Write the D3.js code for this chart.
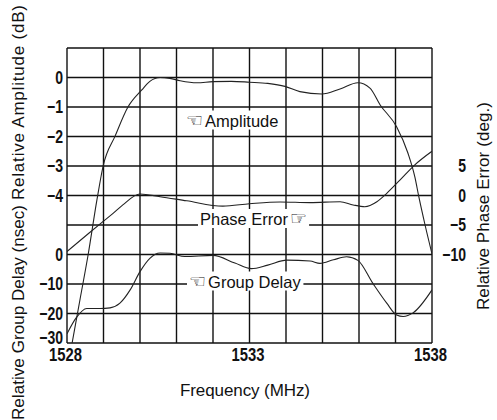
<!doctype html>
<html>
<head>
<meta charset="utf-8">
<title>Relative amplitude, phase error and group delay</title>
<style>
    body { margin: 0; overflow: hidden; background: #fff; }
    text { font-family: "Liberation Sans", Arial, sans-serif; fill: #111; }
    .tick text { font-family: "Liberation Sans", Arial, sans-serif; font-weight: bold; font-size: 18px; }
    .hand { font-family: "DejaVu Sans", sans-serif; font-size: 19px; }
</style>
</head>
<body>
<script src="https://cdn.jsdelivr.net/npm/d3@7"></script>
<script>
const freqTicks = [1528, 1533, 1538];
const ampTicks = [0, -1, -2, -3, -4];
const delayTicks = [0, -10, -20, -30];
const phaseTicks = [5, 0, -5, -10];

// amplitude (dB)
const ampFreq = [1528.14, 1528.36, 1528.58, 1528.82, 1528.99, 1529.32, 1529.67, 1530.05, 1530.27, 1530.55,
    1530.82, 1531.1, 1531.56, 1532.0, 1532.5, 1533.0, 1533.5, 1533.97, 1534.38, 1534.98,
    1535.48, 1535.97, 1536.3, 1536.58, 1537.03, 1537.34, 1537.53, 1537.64, 1537.81, 1538.0];
const ampDb = [-9.0, -7.5, -6.0, -4.15, -3.0, -1.98, -1.0, -0.42, -0.13, 0.0,
    -0.03, -0.11, -0.18, -0.14, -0.13, -0.16, -0.2, -0.3, -0.48, -0.56,
    -0.39, -0.18, -0.36, -0.93, -1.67, -2.56, -3.37, -4.05, -5.0, -5.98];

// phase error (deg)
const phaseFreq = [1528.0, 1528.54, 1528.95, 1529.27, 1529.53, 1530.0, 1530.55, 1531.28, 1532.27, 1533.0,
    1533.84, 1534.66, 1535.48, 1535.84, 1536.16, 1536.49, 1536.76, 1537.12, 1537.53, 1538.0];
const phaseDeg = [-9.5, -6.7, -4.6, -3.0, -1.6, 0.25, -0.2, -0.9, -1.8, -1.4,
    -1.1, -1.2, -1.05, -1.6, -1.9, -1.05, 0.37, 2.6, 5.2, 7.5];

// group delay (nsec)
const delayFreq = [1528.0, 1528.25, 1528.54, 1528.9, 1529.18, 1529.45, 1529.73, 1530.0, 1530.27, 1530.55,
    1530.82, 1531.23, 1532.0, 1532.6, 1533.05, 1533.5, 1534.02, 1534.66, 1534.93, 1535.3,
    1535.66, 1535.97, 1536.38, 1536.76, 1537.03, 1537.21, 1537.48, 1538.0];
const delayNs = [-26.9, -21.5, -18.3, -18.3, -18.1, -16.5, -12.0, -5.8, -1.3, 0.5,
    0.4, -0.7, -0.3, -2.9, -4.8, -3.6, -1.9, -2.2, -3.0, -1.8,
    -0.75, -2.0, -9.8, -16.5, -20.5, -21.0, -19.8, -12.0];

const width = 497;
const height = 420;
const plotL = 67, plotR = 432, plotT = 48, plotB = 343;
const squeeze = 0.78; // tick digits are narrow in the original

const svg = d3.select('body')
    .append('svg')
    .attr('width', width)
    .attr('height', height);

const x = d3.scaleLinear().domain([1528, 1538]).range([plotL, plotR]);
const yAmp = d3.scaleLinear().domain([-9, 1]).range([plotB, plotT]);
const yPhase = d3.scaleLinear().domain([-25, 25]).range([plotB, plotT]);
const yDelay = d3.scaleLinear().domain([-30, 70]).range([plotB, plotT]);

// grid, one line per MHz and per dB
const grid = svg.append('g')
    .attr('stroke', '#111')
    .attr('stroke-width', 1.4);
grid.selectAll('.v').data(d3.range(1528, 1539)).join('line')
    .attr('class', 'v')
    .attr('x1', d => x(d)).attr('x2', d => x(d))
    .attr('y1', plotT).attr('y2', plotB);
grid.selectAll('.h').data(d3.range(-9, 2)).join('line')
    .attr('class', 'h')
    .attr('x1', plotL).attr('x2', plotR)
    .attr('y1', d => yAmp(d)).attr('y2', d => yAmp(d));

// axes
const fmt = d3.format('d');
const narrow = (sel, px) => sel.attr('transform', `scale(${squeeze},1)`).attr('x', px / squeeze);

svg.append('g')
    .attr('transform', `translate(${plotL},0)`)
    .call(d3.axisLeft(yAmp).tickValues(ampTicks).tickSize(0).tickFormat(fmt))
    .call(g => g.select('.domain').remove())
    .call(g => narrow(g.selectAll('text'), -4));
svg.append('g')
    .attr('transform', `translate(${plotL},0)`)
    .call(d3.axisLeft(yDelay).tickValues(delayTicks).tickSize(0).tickFormat(fmt))
    .call(g => g.select('.domain').remove())
    .call(g => narrow(g.selectAll('text'), -4))
    .call(g => g.selectAll('.tick').filter(d => d === -30).select('text').attr('y', -5));
svg.append('g')
    .attr('transform', `translate(${plotR},0)`)
    .call(d3.axisRight(yPhase).tickValues(phaseTicks).tickSize(0).tickFormat(fmt))
    .call(g => g.select('.domain').remove())
    .call(g => narrow(g.selectAll('text'), 34).attr('text-anchor', 'end'));
svg.append('g')
    .attr('transform', `translate(0,${plotB})`)
    .call(d3.axisBottom(x).tickValues(freqTicks).tickSize(0).tickPadding(5).tickFormat(fmt))
    .call(g => g.select('.domain').remove())
    .call(g => narrow(g.selectAll('text'), -2).style('font-size', '19px'));

// curves
svg.append('clipPath').attr('id', 'plot')
    .append('rect')
    .attr('x', plotL).attr('y', plotT)
    .attr('width', plotR - plotL).attr('height', plotB - plotT);

const curve = (xs, ys, yScale) => d3.line()
    .x((d, i) => x(xs[i]))
    .y((d, i) => yScale(ys[i]))
    .curve(d3.curveMonotoneX)(xs);

const curves = svg.append('g')
    .attr('clip-path', 'url(#plot)')
    .attr('fill', 'none')
    .attr('stroke', '#222')
    .attr('stroke-width', 1.1);
curves.append('path').attr('d', curve(ampFreq, ampDb, yAmp));
curves.append('path').attr('d', curve(phaseFreq, phaseDeg, yPhase));
curves.append('path').attr('d', curve(delayFreq, delayNs, yDelay));

// labels on the curves, with white behind them
function note(px, py, parts) {
    const g = svg.append('g');
    const t = g.append('text').attr('x', px).attr('y', py).style('font-size', '16.5px');
    parts.forEach(p => {
        t.append('tspan')
            .attr('class', p.hand ? 'hand' : null)
            .attr('dx', p.dx || 0)
            .text(p.text);
    });
    const b = t.node().getBBox();
    g.insert('rect', 'text')
        .attr('x', b.x - 2).attr('y', b.y + 2)
        .attr('width', b.width + 4).attr('height', b.height - 3)
        .attr('fill', '#fff');
}
note(186, 126.5, [{ text: '\u261C', hand: true }, { text: 'Amplitude', dx: 2 }]);
note(200, 225, [{ text: 'Phase Error' }, { text: '\u261E', hand: true, dx: 2 }]);
note(189, 287.5, [{ text: '\u261C', hand: true }, { text: 'Group Delay', dx: 2 }]);

// axis titles
const title = (tx, ty, rot, len, s) => svg.append('text')
    .attr('transform', `translate(${tx},${ty}) rotate(${rot})`)
    .attr('text-anchor', 'middle')
    .attr('textLength', len)
    .attr('lengthAdjust', 'spacing')
    .style('font-size', '17px')
    .text(s);
title(24, 102.5, -90, 195, 'Relative Amplitude (dB)');
title(24, 312.5, -90, 215, 'Relative Group Delay (nsec)');
title(489, 206, -90, 208, 'Relative Phase Error (deg.)');
title(245, 396, 0, 130, 'Frequency (MHz)');
</script>
</body>
</html>
